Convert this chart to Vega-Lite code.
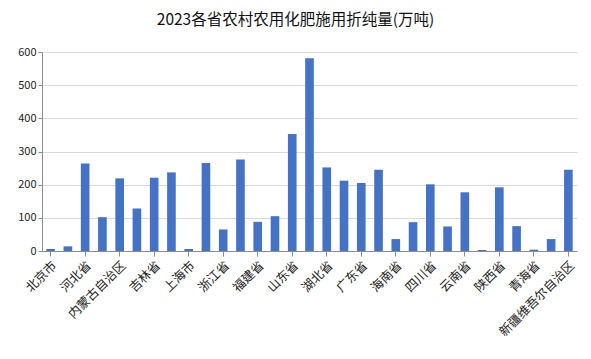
{
  "$schema": "https://vega.github.io/schema/vega-lite/v6.json",
  "width": 535,
  "height": 199,
  "autosize": {"type": "none"},
  "padding": {"left": 42, "top": 52, "right": 14, "bottom": 108},
  "background": "white",
  "title": {
    "text": "2023各省农村农用化肥施用折纯量(万吨)",
    "font": "Noto Sans CJK SC",
    "fontSize": 15.5,
    "fontWeight": "normal",
    "color": "#111111",
    "anchor": "middle",
    "dx": -14,
    "offset": 18
  },
  "data": {
    "values": [
      {"province": "北京市", "value": 6},
      {"province": "天津市", "value": 14},
      {"province": "河北省", "value": 264},
      {"province": "山西省", "value": 102},
      {"province": "内蒙古自治区", "value": 219},
      {"province": "辽宁省", "value": 128},
      {"province": "吉林省", "value": 221},
      {"province": "黑龙江省", "value": 237},
      {"province": "上海市", "value": 6},
      {"province": "江苏省", "value": 265},
      {"province": "浙江省", "value": 65},
      {"province": "安徽省", "value": 276},
      {"province": "福建省", "value": 88},
      {"province": "江西省", "value": 105},
      {"province": "山东省", "value": 353},
      {"province": "河南省", "value": 581},
      {"province": "湖北省", "value": 252},
      {"province": "湖南省", "value": 212},
      {"province": "广东省", "value": 205},
      {"province": "广西壮族自治区", "value": 245},
      {"province": "海南省", "value": 36},
      {"province": "重庆市", "value": 87},
      {"province": "四川省", "value": 201},
      {"province": "贵州省", "value": 74},
      {"province": "云南省", "value": 177},
      {"province": "西藏自治区", "value": 3},
      {"province": "陕西省", "value": 192},
      {"province": "甘肃省", "value": 75},
      {"province": "青海省", "value": 4},
      {"province": "宁夏回族自治区", "value": 36},
      {"province": "新疆维吾尔自治区", "value": 245}
    ]
  },
  "mark": {"type": "bar", "color": "#4472C4"},
  "encoding": {
    "x": {
      "field": "province",
      "type": "nominal",
      "sort": null,
      "scale": {"paddingInner": 0.5, "paddingOuter": 0.25},
      "axis": {
        "title": null,
        "values": ["北京市", "河北省", "内蒙古自治区", "吉林省", "上海市", "浙江省", "福建省", "山东省", "湖北省", "广东省", "海南省", "四川省", "云南省", "陕西省", "青海省", "新疆维吾尔自治区"],
        "labelAngle": -45,
        "labelAlign": "right",
        "labelBaseline": "middle",
        "labelFont": "Noto Sans CJK SC",
        "labelFontSize": 12.5,
        "labelColor": "#222222",
        "labelPadding": 7,
        "labelOffset": 4,
        "domainColor": "#8c8c8c",
        "tickColor": "#8c8c8c",
        "tickSize": 5,
        "grid": false
      }
    },
    "y": {
      "field": "value",
      "type": "quantitative",
      "scale": {"domain": [0, 600], "nice": false},
      "axis": {
        "title": null,
        "values": [0, 100, 200, 300, 400, 500, 600],
        "labelFont": "Noto Sans CJK SC",
        "labelFontSize": 11,
        "labelColor": "#222222",
        "labelPadding": 2,
        "domainColor": "#8c8c8c",
        "tickColor": "#8c8c8c",
        "tickSize": 4,
        "gridColor": "#d9d9d9"
      }
    }
  },
  "config": {"view": {"stroke": null}}
}
